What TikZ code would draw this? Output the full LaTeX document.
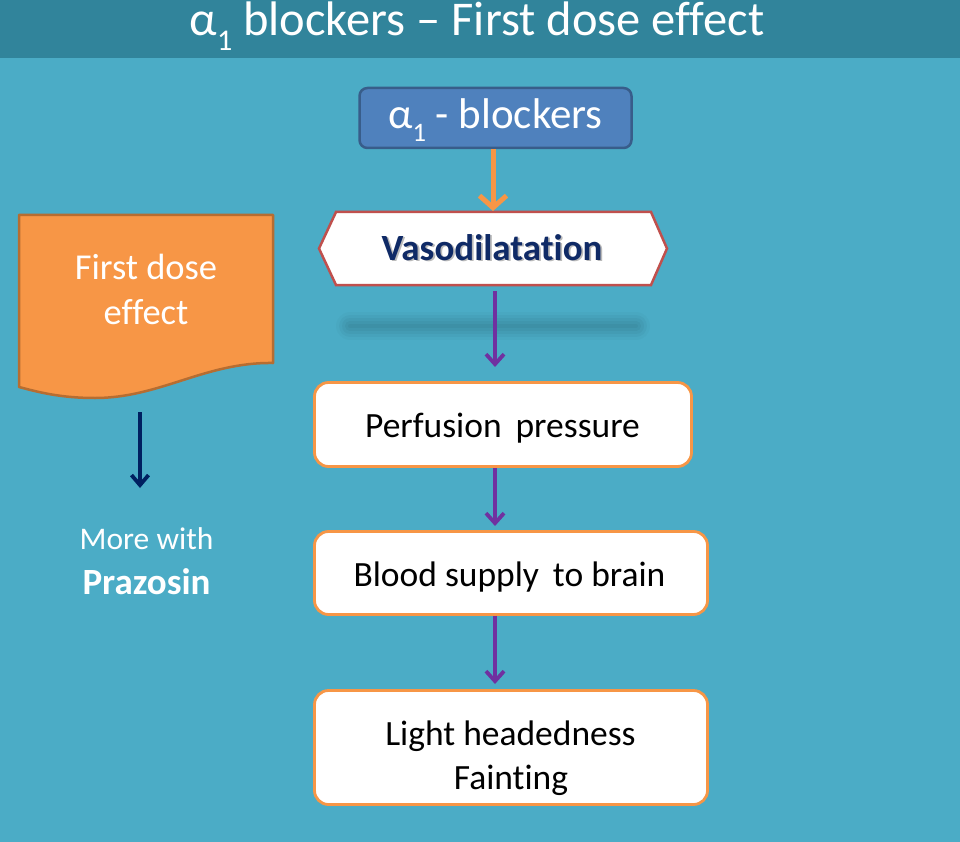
\documentclass[tikz,border=0pt]{standalone}
\usepackage{fontspec}
\setmainfont{Carlito}[Ligatures=NoCommon]
\usetikzlibrary{arrows.meta,shapes.geometric}
\definecolor{bg}{HTML}{4BACC6}
\definecolor{titlebar}{HTML}{31849B}
\definecolor{blueA}{HTML}{4F81BD}
\definecolor{blueB}{HTML}{385D8A}
\definecolor{orangeA}{HTML}{F79646}
\definecolor{orangeB}{HTML}{B66D31}
\definecolor{redB}{HTML}{C0504D}
\definecolor{navy}{HTML}{0F2A66}
\definecolor{purp}{HTML}{7030A0}
\definecolor{darknavy}{HTML}{002060}
\newcommand{\subone}{\raisebox{-0.3em}{\fontsize{0.62em}{0.62em}\selectfont 1}}
\tikzset{
  whitebox/.style={draw=orangeA, line width=2.8pt, fill=white, rounded corners=14pt},
  boxtext/.style={anchor=base, inner sep=0pt, text=black, font=\fontsize{35.5}{44}\selectfont},
  purparrow/.style={draw=purp, line width=3.8pt, -{Straight Barb[length=10pt,width=18pt,line width=3.8pt]}},
}
\begin{document}
\begin{tikzpicture}[x=1pt,y=-1pt]
\useasboundingbox (0,0) rectangle (960,842);
\fill[bg] (0,0) rectangle (960,842);
\fill[titlebar] (0,0) rectangle (960,58);
\node[anchor=base, inner sep=0pt, text=white, font=\fontsize{48.5}{52}\selectfont] (title) at (477,36) {α\subone{} blockers – First dose effect};

% alpha blockers box
\node[draw=blueB, fill=blueA, line width=2.5pt, rounded corners=8pt, minimum width=272pt, minimum height=60pt] (ab) at (495.5,118) {};
\node[anchor=base, inner sep=0pt, text=white, font=\fontsize{43}{48}\selectfont] (abt) at (495.5,128.5) {α\subone{} - blockers};

% vasodilatation hexagon
\coordinate (vtop) at (493,211);
\draw[draw=redB, line width=2.5pt, fill=white] (336,212) -- (651,212) -- (667,248.5) -- (651,285) -- (336,285) -- (319,248.5) -- cycle;
\node[anchor=base, inner sep=0pt, text=black!45, opacity=0.6, font=\bfseries\fontsize{37}{42}\selectfont] (vasos) at (493.8,261.8) {Vasodilatation};
\node[anchor=base, inner sep=0pt, text=navy, font=\bfseries\fontsize{37}{42}\selectfont] (vaso) at (492,260) {Vasodilatation};

% soft shadow band
\foreach \w/\o in {28/0.025,22/0.035,16/0.04,10/0.045,4/0.045}{
  \draw[line width=\w pt, line cap=round, draw=black!80!teal, opacity=\o] (350,326) -- (636,326);
}

% white boxes
\node[whitebox, minimum width=377pt, minimum height=84pt] (perf) at (503,424.5) {};
\node[boxtext] (perft) at (502.5,437) {Perfusion\, pressure};
\node[whitebox, minimum width=393pt, minimum height=83pt] (blood) at (511,573) {};
\node[boxtext] (bloodt) at (509.5,586) {Blood supply\, to brain};
\node[whitebox, minimum width=393pt, minimum height=114pt] (light) at (511,747.5) {};
\node[boxtext] (lightt1) at (510.5,745) {Light headedness};
\node[boxtext] (lightt2) at (511,789) {Fainting};

% arrows
\draw[draw=orangeA, line width=5pt, -{Straight Barb[length=12pt,width=27pt,line width=5pt]}] (ab.south -| vtop) -- (vtop);
\draw[purparrow] (495,291) -- (495,367);
\draw[purparrow] (perf.south -| 495,0) -- (495,526);
\draw[purparrow] (blood.south -| 495,0) -- (495,684);

% first dose effect document shape
\draw[draw=orangeB, line width=2.5pt, fill=orangeA, line join=round]
  (19,215) -- (273,215) -- (273,363) .. controls (205,362) and (160,398) .. (95,398) .. controls (60,398) and (38,392) .. (19,387) -- cycle;
\node[anchor=base, inner sep=0pt, text=white, font=\fontsize{36.5}{45}\selectfont] (fde1) at (146,279) {First dose};
\node[anchor=base, inner sep=0pt, text=white, font=\fontsize{36.5}{45}\selectfont] (fde2) at (146,324) {effect};
\coordinate (arrtop) at (140,412);
\coordinate (arrbot) at (140,488);
\draw[draw=darknavy, line width=3.8pt, -{Straight Barb[length=10pt,width=17pt,line width=3.8pt]}] (arrtop) -- (arrbot);
\node[anchor=base, inner sep=0pt, text=white, font=\fontsize{31.5}{42}\selectfont] (more1) at (146.5,549) {More with};
\node[anchor=base, inner sep=0pt, text=white, font=\bfseries\fontsize{37}{42}\selectfont] (more2) at (146.5,594) {Prazosin};
\end{tikzpicture}
\end{document}
